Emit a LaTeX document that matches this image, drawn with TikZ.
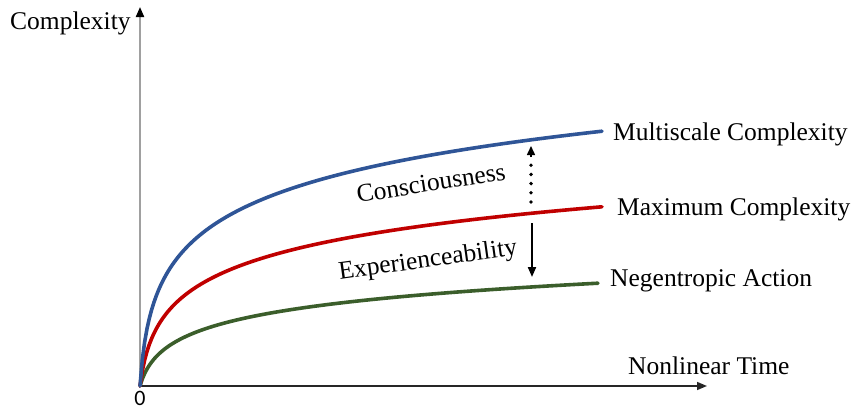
\documentclass[tikz,border=0pt]{standalone}
\usepackage{fontspec}
\setmainfont{Liberation Serif}
\newfontfamily\zerofont{Carlito}
\usetikzlibrary{arrows.meta}
\definecolor{cblue}{HTML}{2F5597}
\definecolor{cred}{HTML}{C00000}
\definecolor{cgreen}{HTML}{3B5E2B}
\definecolor{axgray}{HTML}{A0A0A0}
\tikzset{
  lbl/.style={inner sep=0pt, font=\fontsize{25.5}{30}\selectfont},
  curve/.style={line width=3.6pt, line cap=round},
  tipA/.style={-{Triangle[length=10pt,width=8pt]}}
}
\begin{document}
\begin{tikzpicture}[x=1pt,y=-1pt]
\useasboundingbox (0,0) rectangle (852,410);
\coordinate (O) at (140,386);
\coordinate (ytop) at (140,7);
\coordinate (xend) at (707,386);
% axes
\draw[axgray, line width=2pt, {Triangle[length=10pt,width=8pt,fill=black,color=black]}-] (ytop) -- (O);
\draw[black!85, line width=1.6pt, -{Triangle[length=10pt,width=8pt]}] (O) -- (xend);
% curves
\draw[cgreen, curve] plot[domain=0:458, samples=200, variable=\t] ({140+\t}, {386-24.5*ln(1+\t/7)});
\draw[cred, curve] plot[domain=0:462, samples=200, variable=\t] ({140+\t}, {386-39.5*ln(1+\t/5)});
\draw[cblue, curve] plot[domain=0:462, samples=200, variable=\t] ({140+\t}, {386-52.1*ln(1+\t/3.5)});
% labels
\node[lbl, anchor=west] (ylab) at (10,23) {Complexity};
\node[lbl, anchor=west] (xlab) at (628,366) {Nonlinear Time};
\node[inner sep=0pt, font=\zerofont\fontsize{22}{26}\selectfont] (zero) at (140,398) {0};
\node[lbl, anchor=west] (multi) at (613,134) {Multiscale Complexity};
\node[lbl, anchor=west] (maxc) at (617,209) {Maximum Complexity};
\node[lbl, anchor=west] (neg) at (610,281) {Negentropic Action};
\node[lbl, rotate=9] (cons) at (431,183) {Consciousness};
\node[lbl, rotate=8] (exp) at (428,261) {Experienceability};
% arrows
\coordinate (d1) at (531,202);
\coordinate (d2) at (531,146);
\coordinate (s1) at (532,223);
\coordinate (s2) at (532,277);
\draw[line width=3.8pt, line cap=round, dash pattern=on 0pt off 9.2pt] (d1) -- (531,160);
\draw[line width=1.5pt, -{Triangle[length=9pt,width=8pt]}] (531,157) -- (d2);
\draw[line width=2pt, -{Triangle[length=10pt,width=8pt]}] (s1) -- (s2);
\end{tikzpicture}
\end{document}
